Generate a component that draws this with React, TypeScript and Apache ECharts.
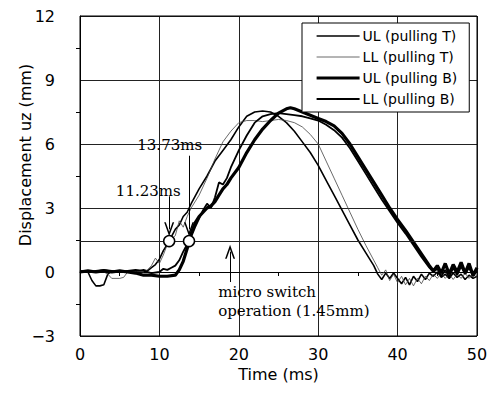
import React, { useEffect, useRef } from "react";
import * as echarts from "echarts";

const seriesNames = ["UL (pulling T)", "LL (pulling T)", "UL (pulling B)", "LL (pulling B)"];

const ulT: [number, number][] = [
  [0, 0], [0.5, 0.05], [1, 0], [1.5, -0.4], [2, -0.65], [2.5, -0.65], [3, -0.6], [3.5, -0.1], [4, 0.05], [5, 0], [6, 0.05], [7, 0], [8, 0.1], [8.5, 0.05], [9, 0.2], [9.5, 0.35], [10, 0.6], [10.5, 1.0], [11, 1.3], [11.5, 1.65], [12, 2.0], [12.5, 2.2], [13, 2.6], [13.5, 2.8], [14, 3.2], [15, 3.9], [16, 4.5], [17, 5.2], [18, 5.7], [19, 6.2], [20, 6.8], [21, 7.3], [22, 7.5], [23, 7.55], [24, 7.5], [25, 7.3], [26, 7.0], [27, 6.6], [28, 6.1], [29, 5.6], [30, 5.0], [31, 4.3], [32, 3.6], [33, 2.9], [34, 2.2], [35, 1.5], [36, 0.9], [37, 0.3], [37.5, -0.1], [38, -0.35], [38.5, -0.05], [39, -0.3], [39.5, -0.05], [40, -0.3], [40.5, -0.55], [41, -0.25], [41.5, -0.6], [42, -0.2], [42.5, -0.45], [43, -0.1], [43.5, -0.35], [44, -0.05], [44.5, -0.2], [45, 0], [45.5, -0.25], [46, -0.1], [46.5, -0.3], [47, -0.05], [47.5, -0.25], [48, -0.1], [48.5, -0.35], [49, -0.15], [49.5, -0.3], [50, -0.2],
];

const llT: [number, number][] = [
  [0, 0.05], [1, 0], [2, 0.05], [3, 0], [3.5, -0.1], [4, -0.3], [5, -0.3], [5.5, -0.25], [6, 0], [7, 0.05], [8, 0], [8.5, 0.1], [9, 0.3], [9.5, 0.65], [10, 0.4], [10.5, 0.8], [11, 1.3], [11.5, 1.55], [12, 1.7], [12.5, 2.4], [13, 2.1], [13.5, 2.6], [14, 3.0], [15, 3.6], [16, 4.4], [17, 5.3], [18, 6.1], [19, 6.6], [20, 7.0], [21, 7.1], [22, 7.1], [23, 7.05], [24, 7.1], [25, 7.15], [26, 7.1], [27, 7.0], [28, 6.8], [29, 6.45], [30, 6.0], [31, 5.2], [32, 4.4], [33, 3.6], [34, 2.8], [35, 2.0], [36, 1.25], [37, 0.55], [37.5, 0.2], [38, -0.15], [38.5, 0.1], [39, -0.4], [39.5, -0.1], [40, -0.5], [40.5, -0.2], [41, -0.6], [41.5, -0.3], [42, -0.65], [42.5, -0.3], [43, -0.55], [43.5, -0.2], [44, -0.4], [44.5, -0.1], [45, -0.3], [45.5, -0.05], [46, -0.3], [46.5, -0.1], [47, -0.35], [47.5, -0.1], [48, -0.3], [48.5, -0.05], [49, -0.3], [49.5, -0.1], [50, -0.25],
];

const ulB: [number, number][] = [
  [0, 0], [1, 0.05], [2, 0], [3, 0.05], [4, 0], [5, 0.05], [6, 0], [7, -0.05], [8, -0.15], [9, -0.15], [10, -0.2], [11, -0.2], [12, -0.15], [12.5, 0.1], [13, 0.5], [13.5, 1.1], [14, 1.8], [14.5, 2.3], [15, 2.6], [15.5, 2.8], [16, 3.0], [16.5, 3.1], [17, 3.3], [17.5, 3.6], [18, 3.9], [18.5, 4.1], [19, 4.4], [20, 4.9], [21, 5.6], [22, 6.2], [23, 6.7], [24, 7.1], [25, 7.45], [26, 7.65], [26.5, 7.7], [27, 7.65], [28, 7.5], [29, 7.35], [30, 7.2], [31, 7.05], [32, 6.85], [33, 6.5], [34, 6.0], [35, 5.4], [36, 4.8], [37, 4.2], [38, 3.6], [39, 3.0], [40, 2.45], [41, 1.95], [42, 1.4], [43, 0.85], [44, 0.3], [44.5, 0.05], [45, 0.3], [45.5, -0.05], [46, 0.4], [46.5, -0.1], [47, 0.35], [47.5, 0], [48, 0.45], [48.5, -0.05], [49, 0.4], [49.5, -0.15], [50, 0.2],
];

const llB: [number, number][] = [
  [0, 0.05], [1, 0], [2, 0.05], [3, 0.1], [4, 0.05], [5, 0], [6, 0.05], [7, 0.1], [8, 0.05], [9, -0.05], [10, 0], [10.5, 0.15], [11, 0.1], [11.5, 0.2], [12, 0.3], [12.5, 0.55], [13, 0.95], [13.5, 1.3], [14, 1.65], [14.5, 2.1], [15, 2.5], [15.5, 2.9], [16, 3.2], [16.5, 3.0], [17, 3.5], [17.5, 4.2], [18, 4.1], [18.5, 4.4], [19, 4.9], [20, 5.7], [21, 6.4], [22, 7.0], [23, 7.3], [24, 7.4], [25, 7.45], [26, 7.4], [27, 7.35], [28, 7.3], [29, 7.2], [30, 7.1], [31, 6.9], [32, 6.65], [33, 6.3], [34, 5.8], [35, 5.2], [36, 4.6], [37, 4.0], [38, 3.4], [39, 2.85], [40, 2.3], [41, 1.8], [42, 1.25], [43, 0.7], [44, 0.2], [44.5, 0], [45, 0.15], [45.5, -0.2], [46, 0.1], [46.5, -0.25], [47, 0.2], [47.5, -0.15], [48, 0.25], [48.5, -0.1], [49, 0.2], [49.5, -0.2], [50, 0.05],
];

const switchLevel = 1.45;
const crossTimes = [11.23, 13.73];
const crossLabels = ["11.23ms", "13.73ms"];

const arrowHead = "path://M5,0 L10,14 L8.4,14 L5,4.5 L1.6,14 L0,14 Z";

export default function App() {
  const ref = useRef<HTMLDivElement>(null);
  useEffect(() => {
    if (!ref.current) return;
    const chart = echarts.init(ref.current, undefined, { renderer: "svg" });
    const serifText = { fontFamily: "DejaVu Serif", fontSize: 15, color: "#000" };
    const lineWidths = [1.6, 0.8, 3.2, 1.8];
    const lineColors = ["#000", "#444", "#000", "#000"];
    const seriesData = [ulT, llT, ulB, llB];
    const option: any = {
      animation: false,
      backgroundColor: "#fff",
      grid: { left: 80, right: 14, top: 16, bottom: 69, show: false },
      legend: {
        orient: "vertical",
        left: 302,
        top: 23,
        data: seriesNames.map((n, i) => ({
          name: n,
          lineStyle: { width: lineWidths[i], color: lineColors[i] },
        })),
        itemWidth: 43,
        itemHeight: 14,
        itemGap: 7,
        padding: [6, 12, 6, 13],
        borderColor: "#000",
        borderWidth: 1,
        backgroundColor: "#fff",
        itemStyle: { opacity: 0 },
        textStyle: { fontFamily: "DejaVu Sans", fontSize: 14, color: "#000", padding: [0, 0, 0, -2] },
      },
      xAxis: {
        type: "value",
        min: 0,
        max: 50,
        interval: 10,
        name: "Time (ms)",
        nameLocation: "middle",
        nameGap: 24,
        nameTextStyle: { fontFamily: "DejaVu Sans", fontSize: 16, color: "#000" },
        axisLine: { show: true, lineStyle: { color: "#000", width: 1 } },
        axisTick: { show: false },
        minorTick: { show: true, splitNumber: 2, length: 4, lineStyle: { color: "#000" } },
        axisLabel: { fontFamily: "DejaVu Sans", fontSize: 16, color: "#000", margin: 10 },
        splitLine: { show: true, lineStyle: { color: "#222", width: 1 } },
      },
      yAxis: {
        type: "value",
        min: -3,
        max: 12,
        interval: 3,
        axisLine: { show: true, onZero: false, lineStyle: { color: "#000", width: 1 } },
        axisTick: { show: false },
        minorTick: { show: true, splitNumber: 2, length: 4, lineStyle: { color: "#000" } },
        axisLabel: {
          fontFamily: "DejaVu Sans",
          fontSize: 16,
          color: "#000",
          margin: 25,
          formatter: (v: number) => String(v).replace("-", "\u2212"),
        },
        splitLine: { show: true, lineStyle: { color: "#222", width: 1 } },
      },
      graphic: [
        {
          type: "text",
          x: 25,
          y: 155,
          rotation: Math.PI / 2,
          style: {
            text: "Displacement uz (mm)",
            fontFamily: "DejaVu Sans",
            fontSize: 16,
            fill: "#000",
            align: "center",
            verticalAlign: "middle",
          },
        },
        {
          type: "rect",
          shape: { x: 80, y: 16, width: 397, height: 320 },
          style: { fill: "none", stroke: "#000", lineWidth: 1 },
          silent: true,
          z: 1,
        },
      ],
      series: [
        ...seriesNames.map((n, i) => ({
          name: n,
          type: "line",
          data: seriesData[i],
          symbol: "none",
          lineStyle: { color: lineColors[i], width: lineWidths[i] },
          itemStyle: { color: lineColors[i] },
          z: 3,
        })),
        {
          name: "annotations",
          type: "line",
          data: [],
          symbol: "none",
          silent: true,
          z: 6,
          markLine: {
            silent: true,
            animation: false,
            z: 6,
            label: { show: false },
            lineStyle: { color: "#000", width: 1, type: "solid" },
            symbol: ["none", "none"],
            data: [
              { yAxis: switchLevel, lineStyle: { color: "#222", width: 1, type: "solid" } },
              [
                { coord: [crossTimes[0], 3.55], symbol: "none" },
                { coord: [crossTimes[0], 2.0], symbol: arrowHead, symbolSize: [10, 14] },
              ],
              [
                { coord: [crossTimes[1], 5.45], symbol: "none" },
                { coord: [crossTimes[1], 2.0], symbol: arrowHead, symbolSize: [10, 14] },
              ],
              [
                { coord: [18.9, -0.47], symbol: "none" },
                { coord: [18.9, 0.95], symbol: arrowHead, symbolSize: [10, 14] },
              ],
            ],
          },
          markPoint: {
            silent: true,
            animation: false,
            z: 7,
            data: [
              ...crossTimes.map((t) => ({
                coord: [t, switchLevel],
                symbol: "circle",
                symbolSize: 11,
                itemStyle: { color: "#fff", borderColor: "#000", borderWidth: 1.5 },
                label: { show: false },
              })),
              {
                coord: [8.6, 3.79],
                symbol: "circle",
                symbolSize: 0,
                label: { show: true, position: "inside", formatter: crossLabels[0], ...serifText },
              },
              {
                coord: [11.3, 5.93],
                symbol: "circle",
                symbolSize: 0,
                label: { show: true, position: "inside", formatter: crossLabels[1], ...serifText },
              },
              {
                coord: [17.4, -0.93],
                symbol: "circle",
                symbolSize: 0,
                label: { show: true, position: "right", distance: 0, formatter: "micro switch", ...serifText },
              },
              {
                coord: [17.4, -1.82],
                symbol: "circle",
                symbolSize: 0,
                label: { show: true, position: "right", distance: 0, formatter: "operation (1.45mm)", ...serifText },
              },
            ],
          },
        },
      ],
    };
    chart.setOption(option);
    return () => chart.dispose();
  }, []);
  return <div ref={ref} style={{ width: 491, height: 405, position: "absolute", left: 0, top: 0 }} />;
}
